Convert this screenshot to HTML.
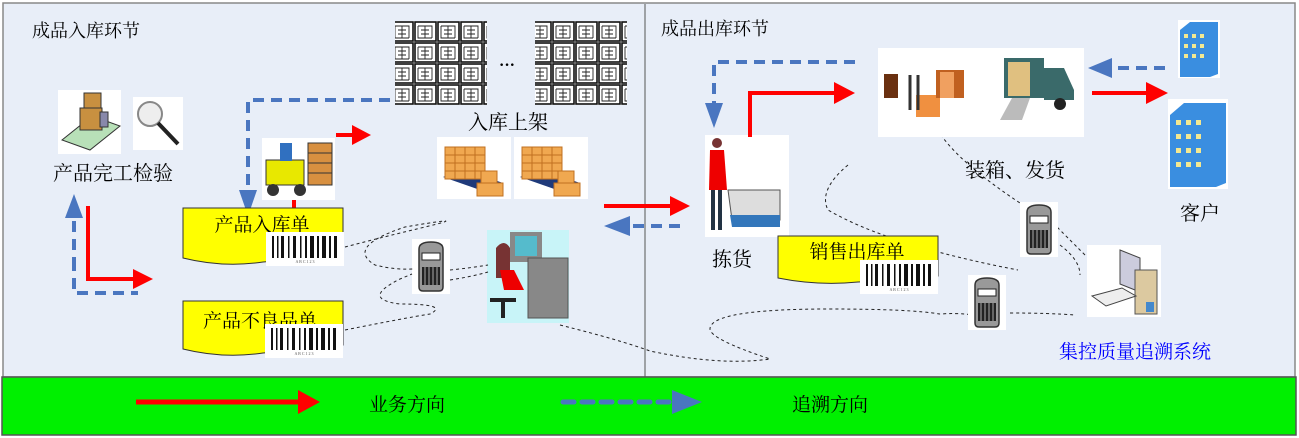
<!DOCTYPE html>
<html><head><meta charset="utf-8"><style>
html,body{margin:0;padding:0;background:#fff;}
svg{display:block;}
text{font-family:"Liberation Serif","Noto Serif CJK SC",serif;}
</style></head><body>
<svg width="1299" height="438" viewBox="0 0 1299 438" xmlns="http://www.w3.org/2000/svg">
<defs>
<pattern id="rack" width="23" height="21" patternUnits="userSpaceOnUse">
<rect width="23" height="21" fill="#fff"/>
<rect x="1" y="1" width="21" height="19" fill="none" stroke="#111" stroke-width="1.6"/>
<path d="M4 5h14v12M4 5v12h14M7 9h8M7 13h8M11 5v12" stroke="#222" stroke-width="0.9" fill="none"/>
</pattern>
<g id="bc">
<rect width="78" height="34" fill="#fff"/>
<g fill="#111"><rect x="6" y="4" width="2" height="22"/><rect x="11" y="4" width="1.5" height="22"/><rect x="15" y="4" width="3" height="22"/><rect x="22" y="4" width="1.5" height="22"/><rect x="27" y="4" width="3" height="22"/><rect x="34" y="4" width="1.5" height="22"/><rect x="39" y="4" width="2" height="22"/><rect x="44" y="4" width="4" height="22"/><rect x="51" y="4" width="2" height="22"/><rect x="56" y="4" width="4" height="22"/><rect x="63" y="4" width="2" height="22"/><rect x="68" y="4" width="3" height="22"/></g>
<text x="39" y="31" font-size="4" text-anchor="middle" fill="#555">A B C 1 2 3</text>
</g>
<g id="scanner">
<rect x="0" y="0" width="38" height="55" fill="#fff"/>
<path d="M7 10q0-7 12-7q12 0 12 7v38q0 4-4 4h-16q-4 0-4-4z" fill="#999" stroke="#333" stroke-width="1.5"/>
<rect x="10" y="14" width="18" height="7" fill="#fff" stroke="#222"/>
<rect x="10" y="28" width="18" height="18" fill="#222"/>
<path d="M13 28v18M17 28v18M21 28v18M25 28v18" stroke="#aaa" stroke-width="1"/>
</g>
<g id="pallet">
<rect x="0" y="0" width="74" height="62" fill="#fff"/>
<path d="M6 40l40 14 20-8-40-14z" fill="#1f3a7a"/>
<rect x="8" y="10" width="40" height="32" fill="#f0a850" stroke="#c07020"/>
<path d="M8 18h40M8 26h40M8 34h40M18 10v32M28 10v32M38 10v32" stroke="#c07020"/>
<rect x="44" y="34" width="16" height="13" fill="#f0a850" stroke="#c07020"/>
<rect x="40" y="46" width="26" height="13" fill="#f0a850" stroke="#c07020"/>
</g>
</defs>

<rect x="0" y="0" width="1299" height="438" fill="#fff"/>
<rect x="3" y="3" width="1292" height="374" fill="#e8eef8" stroke="#888" stroke-width="1.5"/>
<line x1="645" y1="4" x2="645" y2="377" stroke="#555" stroke-width="1"/>
<rect x="2" y="377" width="1294" height="58" fill="#00f000" stroke="#555" stroke-width="1.5"/>

<text x="32" y="37" font-size="18">成品入库环节</text>
<text x="661" y="35" font-size="18">成品出库环节</text>

<rect x="395" y="21" width="92" height="84" fill="url(#rack)"/>
<rect x="535" y="21" width="92" height="84" fill="url(#rack)"/>
<text x="507" y="70" font-size="16" font-weight="bold" text-anchor="middle">···</text>
<text x="508" y="129" font-size="20" text-anchor="middle">入库上架</text>
<use href="#pallet" x="437" y="137"/>
<use href="#pallet" x="514" y="137"/>

<rect x="58" y="90" width="63" height="64" fill="#fff"/>
<path d="M62 140l30-24 28 10-30 24z" fill="#b8e0b8" stroke="#333"/>
<rect x="84" y="93" width="17" height="16" fill="#c89040" stroke="#333"/>
<rect x="80" y="108" width="22" height="22" fill="#c89040" stroke="#333"/>
<rect x="100" y="112" width="8" height="15" fill="#88a" stroke="#333"/>
<rect x="133" y="97" width="50" height="53" fill="#fff"/>
<circle cx="150" cy="114" r="12" fill="#eee" stroke="#888" stroke-width="2"/>
<line x1="158" y1="123" x2="178" y2="144" stroke="#222" stroke-width="4"/>
<text x="113" y="180" font-size="20" text-anchor="middle">产品完工检验</text>

<path d="M74 260v33h64" fill="none" stroke="#4a76c0" stroke-width="4" stroke-dasharray="11,7"/>
<path d="M74 268v-54" fill="none" stroke="#4a76c0" stroke-width="4" stroke-dasharray="11,7"/>
<polygon points="65,218 74,194 83,218" fill="#4a76c0"/>
<path d="M88 206v73h48" fill="none" stroke="#ff0000" stroke-width="4"/>
<polygon points="133,269 153,279 133,289" fill="#ff0000"/>

<rect x="262" y="138" width="73" height="62" fill="#fff"/>
<rect x="266" y="160" width="38" height="25" fill="#e8e800" stroke="#333"/>
<circle cx="273" cy="190" r="6" fill="#333"/><circle cx="300" cy="190" r="6" fill="#333"/>
<rect x="280" y="143" width="12" height="18" fill="#3070c0"/>
<rect x="308" y="143" width="24" height="42" fill="#d89040" stroke="#333"/>
<path d="M308 153h24M308 163h24M308 173h24" stroke="#333"/>
<path d="M336 135h22" stroke="#ff0000" stroke-width="4"/>
<polygon points="352,125 371,135 352,145" fill="#ff0000"/>
<path d="M294 200v33" stroke="#ff0000" stroke-width="4"/>
<path d="M390 100h-142v88" fill="none" stroke="#4a76c0" stroke-width="4" stroke-dasharray="11,7"/>
<polygon points="239,190 248,216 257,190" fill="#4a76c0"/>

<path d="M183 208h160v46q-30 4-80 8q-40 6-80-4z" fill="#ffff00" stroke="#333" stroke-width="1"/>
<text x="262" y="231" font-size="19" text-anchor="middle">产品入库单</text>
<use href="#bc" x="266" y="232"/>
<path d="M183 301h160v44q-30 4-80 8q-40 6-80-4z" fill="#ffff00" stroke="#333" stroke-width="1"/>
<text x="260" y="327" font-size="19" text-anchor="middle">产品不良品单</text>
<use href="#bc" x="265" y="324"/>

<use href="#scanner" x="412" y="239"/>
<rect x="487" y="230" width="82" height="93" fill="#c8f4f8"/>
<rect x="510" y="232" width="32" height="30" fill="#888"/><rect x="515" y="236" width="22" height="20" fill="#5bc"/>
<rect x="528" y="258" width="40" height="60" fill="#888" stroke="#555"/>
<path d="M496 248q8-10 14 0v30h-14z" fill="#733"/>
<path d="M500 270l14 0 10 20-20 0z" fill="#e00"/>
<path d="M490 300l26 0M503 300v18" stroke="#222" stroke-width="4"/>

<g fill="none" stroke="#222" stroke-width="1" stroke-dasharray="3,3">
<path d="M345 247q30-8 80-20 t-20 0 q-60 20-30 38 q20 5 38 4"/>
<path d="M450 270q20-2 38-5"/>
<path d="M450 280q20-3 38-8"/>
<path d="M345 330q60-12 85-16 q20-10-30-10 q-40-5 0-25 l12-5"/>
<path d="M560 325q60 15 90 26 q70 15 120 8 q-60-20-60-30 q0-20 120-20 q80 0 110 5 q30-2 50 5"/>
<path d="M848 165q-30 25-20 45 q60 35 190 60"/>
<path d="M1060 245q20 15 20 30"/>
<path d="M1010 313q40 0 65 2"/>
<path d="M1085 255q-20-20-30-30 q-100-60-120-100"/>
</g>

<path d="M604 206h66" stroke="#ff0000" stroke-width="4"/>
<polygon points="670,196 690,206 670,216" fill="#ff0000"/>
<path d="M680 226h-50" stroke="#4a76c0" stroke-width="4" stroke-dasharray="11,7"/>
<polygon points="630,216 604,226 630,236" fill="#4a76c0"/>

<rect x="705" y="135" width="84" height="102" fill="#fff"/>
<circle cx="717" cy="143" r="5" fill="#733"/>
<path d="M710 150h14l3 40h-18z" fill="#e00"/>
<path d="M713 190v40M720 190v40" stroke="#234" stroke-width="4"/>
<path d="M728 190h52v30h-48z" fill="#ddd" stroke="#555"/>
<path d="M730 215h50v12h-48z" fill="#37b"/>
<text x="732" y="266" font-size="20" text-anchor="middle">拣货</text>
<path d="M750 137v-44h84" fill="none" stroke="#ff0000" stroke-width="4"/>
<polygon points="834,82 855,93 834,104" fill="#ff0000"/>
<path d="M855 62h-141v42" fill="none" stroke="#4a76c0" stroke-width="4" stroke-dasharray="11,7"/>
<polygon points="705,103 714,128 723,103" fill="#4a76c0"/>

<rect x="878" y="48" width="206" height="89" fill="#fff"/>
<rect x="884" y="74" width="14" height="24" fill="#6a3010"/><rect x="916" y="95" width="24" height="22" fill="#f09040"/>
<rect x="936" y="70" width="28" height="28" fill="#c06020"/><rect x="940" y="72" width="14" height="26" fill="#f0a060"/>
<path d="M910 75v35M918 75v35" stroke="#333" stroke-width="3"/>
<path d="M1004 58h40v40h-40z" fill="#3a6a6a"/><path d="M1044 68h20l10 22v10h-30z" fill="#3a6a6a"/>
<rect x="1008" y="62" width="22" height="34" fill="#e0c080"/>
<path d="M1000 120l12-22h18l-8 22z" fill="#bbb"/>
<circle cx="1060" cy="104" r="6" fill="#222"/>
<text x="1015" y="177" font-size="20" text-anchor="middle">装箱、发货</text>

<rect x="1178" y="20" width="42" height="58" fill="#fff"/>
<path d="M1180 30l10-8h28v52l-8 3h-30z" fill="#3a8ee0"/>
<g fill="#f4e890"><rect x="1184" y="34" width="4" height="4"/><rect x="1192" y="34" width="4" height="4"/><rect x="1200" y="34" width="4" height="4"/><rect x="1184" y="44" width="4" height="4"/><rect x="1192" y="44" width="4" height="4"/><rect x="1200" y="44" width="4" height="4"/><rect x="1184" y="54" width="4" height="4"/><rect x="1192" y="54" width="4" height="4"/><rect x="1200" y="54" width="4" height="4"/></g>
<rect x="1168" y="99" width="60" height="90" fill="#fff"/>
<path d="M1170 115l14-12h42v80l-10 4h-46z" fill="#3a8ee0"/>
<g fill="#f4e890"><rect x="1176" y="120" width="5" height="5"/><rect x="1186" y="120" width="5" height="5"/><rect x="1196" y="120" width="5" height="5"/><rect x="1176" y="134" width="5" height="5"/><rect x="1186" y="134" width="5" height="5"/><rect x="1196" y="134" width="5" height="5"/><rect x="1176" y="148" width="5" height="5"/><rect x="1186" y="148" width="5" height="5"/><rect x="1196" y="148" width="5" height="5"/><rect x="1176" y="162" width="5" height="5"/><rect x="1186" y="162" width="5" height="5"/><rect x="1196" y="162" width="5" height="5"/></g>
<text x="1200" y="220" font-size="20" text-anchor="middle">客户</text>
<path d="M1165 68h-55" stroke="#4a76c0" stroke-width="4" stroke-dasharray="11,7"/>
<polygon points="1112,58 1088,68 1112,78" fill="#4a76c0"/>
<path d="M1092 93h56" stroke="#ff0000" stroke-width="4"/>
<polygon points="1146,82 1168,93 1146,104" fill="#ff0000"/>

<path d="M778 236h160v40q-30 4-80 6q-40 4-80-4z" fill="#ffff00" stroke="#333" stroke-width="1"/>
<text x="857" y="258" font-size="19" text-anchor="middle">销售出库单</text>
<use href="#bc" x="860" y="260"/>

<use href="#scanner" x="1020" y="202"/>
<use href="#scanner" x="968" y="275"/>
<rect x="1087" y="245" width="74" height="72" fill="#fff"/>
<path d="M1120 250l20 8v34l-20-8z" fill="#ccd" stroke="#444"/>
<rect x="1135" y="270" width="22" height="44" fill="#dcc9a0" stroke="#555"/>
<path d="M1092 296l30-8 14 8-30 10z" fill="#eee" stroke="#444"/>
<rect x="1146" y="302" width="8" height="10" fill="#48c"/>
<text x="1135" y="358" font-size="19" fill="#0000ff" text-anchor="middle">集控质量追溯系统</text>

<path d="M136 402h163" stroke="#ff0000" stroke-width="5"/>
<polygon points="298,390 320,402 298,414" fill="#ff0000"/>
<text x="407" y="411" font-size="19" text-anchor="middle">业务方向</text>
<path d="M563 402h112" stroke="#4a76c0" stroke-width="5" stroke-dasharray="11,8" stroke-linecap="round"/>
<polygon points="672,390 702,402 672,414" fill="#4a76c0"/>
<text x="830" y="411" font-size="19" text-anchor="middle">追溯方向</text>
</svg>
</body></html>
